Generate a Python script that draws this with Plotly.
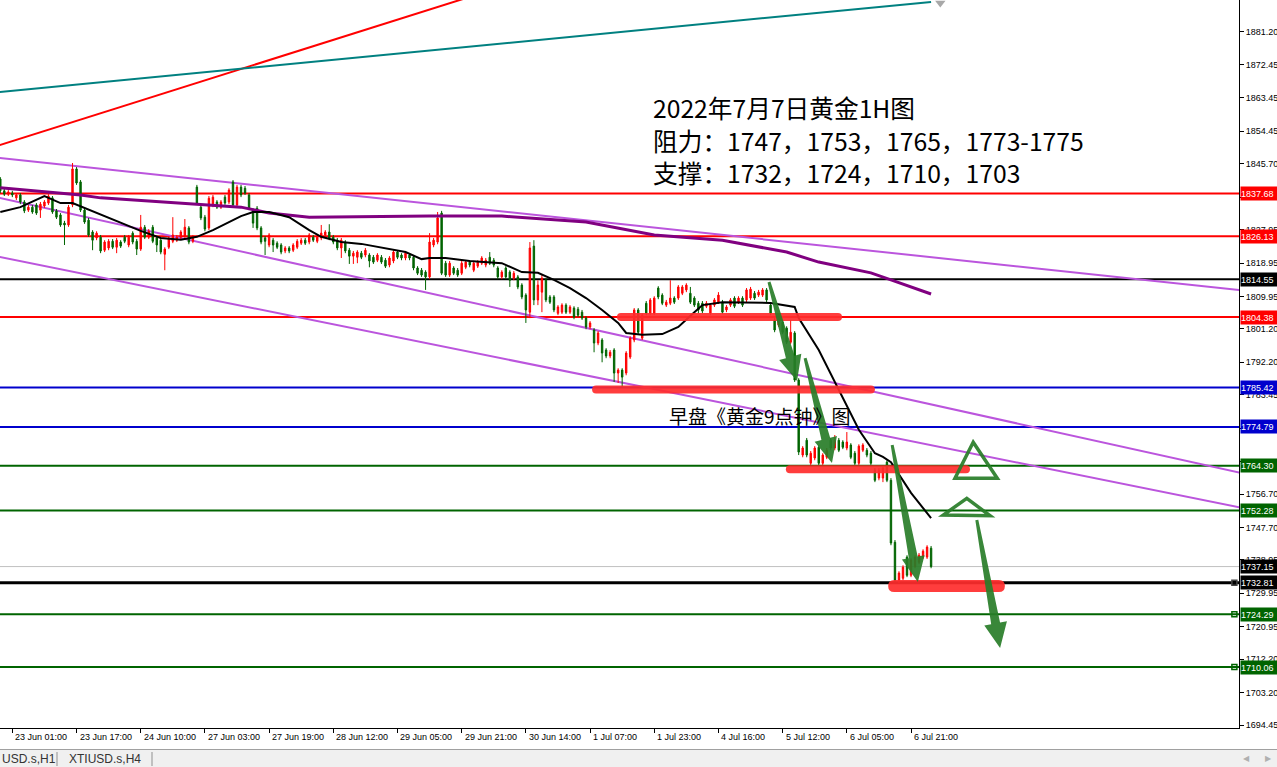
import math
import plotly.graph_objects as go

# ---------------- data ----------------
opens = [
1841.6,1838.4,1837.5,1837.8,1836.5,1837.3,1835.4,1833.2,1834.0,1834.6,
1833.2,1834.3,1835.1,1836.5,1833.0,1831.9,1829.7,1829.2,1834.6,1844.3,
1840.8,1833.2,1830.5,1827.3,1825.7,1825.9,1822.4,1823.0,1824.8,1823.2,
1824.6,1825.9,1823.8,1827.0,1824.8,1822.7,1828.6,1825.9,1828.6,1825.7,
1825.1,1821.3,1823.2,1824.8,1825.1,1825.9,1826.2,1828.4,1824.8,1839.4,
1834.0,1831.3,1828.4,1834.6,1835.4,1834.0,1836.7,1835.4,1840.8,1834.6,
1839.4,1839.1,1837.3,1833.2,1833.7,1828.4,1825.7,1823.8,1825.1,1824.3,
1823.8,1822.2,1823.0,1822.4,1823.2,1824.3,1825.1,1824.6,1825.9,1824.8,
1825.7,1826.5,1827.3,1825.9,1825.1,1823.0,1824.6,1822.4,1820.8,1820.5,
1821.6,1821.1,1821.1,1820.5,1819.7,1820.5,1819.7,1818.4,1819.5,1821.9,
1821.1,1820.3,1821.1,1820.5,1817.6,1817.0,1816.5,1815.2,1823.8,1824.6,
1832.4,1818.9,1815.7,1817.6,1817.0,1816.2,1817.8,1819.2,1817.0,1818.1,
1818.9,1818.4,1820.5,1819.7,1817.6,1815.2,1817.6,1816.5,1814.9,1815.2,
1813.0,1810.3,1805.7,1823.5,1809.0,1811.1,1814.3,1809.8,1809.8,1805.4,
1805.7,1807.6,1805.7,1806.8,1806.5,1805.7,1804.1,1801.7,1800.9,1797.4,
1798.2,1795.5,1793.9,1795.5,1789.3,1790.1,1789.3,1793.6,1798.2,1806.3,
1798.7,1808.1,1805.4,1805.4,1812.2,1810.3,1807.6,1808.1,1809.5,1809.5,
1810.8,1811.7,1810.8,1809.5,1808.1,1808.1,1807.3,1805.4,1807.6,1808.4,
1808.4,1806.3,1807.6,1809.5,1808.4,1809.5,1809.0,1809.5,1810.8,1810.3,
1810.3,1811.7,1807.6,1803.6,1802.2,1803.0,1801.4,1797.6,1800.1,1787.4,
1767.2,1771.2,1765.0,1766.4,1769.3,1765.0,1766.6,1771.2,1769.1,1771.2,
1770.7,1769.1,1769.9,1767.7,1765.0,1768.5,1768.5,1767.7,1763.1,1761.0,
1761.0,1765.3,1760.4,1743.7,1733.5,1734.0,1739.7,1734.8,1737.2,1738.3,1739.7,1739.7,1742.1]
highs = [
1842.1,1838.9,1838.6,1838.4,1837.8,1837.8,1835.9,1834.6,1834.6,1835.1,
1835.4,1835.9,1837.5,1837.0,1833.5,1832.4,1830.3,1834.6,1845.9,1844.8,
1841.3,1833.7,1831.1,1827.8,1827.5,1826.5,1825.1,1825.4,1825.4,1825.7,
1825.1,1826.5,1826.5,1827.5,1825.4,1831.9,1829.2,1828.1,1829.2,1826.2,
1825.7,1823.2,1826.2,1831.3,1826.5,1827.8,1830.8,1828.9,1826.5,1840.0,
1834.6,1831.9,1837.0,1837.3,1835.9,1835.9,1837.3,1839.1,1841.3,1840.0,
1840.0,1839.7,1837.8,1833.7,1834.3,1828.9,1826.2,1827.0,1825.7,1824.8,
1824.3,1823.5,1823.5,1824.3,1825.4,1825.7,1825.7,1827.0,1826.5,1826.5,
1829.2,1827.8,1829.4,1826.5,1825.7,1825.7,1825.1,1823.0,1822.2,1822.4,
1822.2,1823.0,1821.6,1821.1,1821.6,1821.1,1820.3,1820.8,1822.4,1822.4,
1821.6,1822.2,1821.6,1821.1,1818.1,1817.6,1817.0,1827.0,1825.7,1832.7,
1833.0,1819.5,1819.5,1818.1,1817.6,1819.5,1819.7,1819.7,1819.5,1819.7,
1820.8,1820.3,1821.9,1820.3,1818.1,1817.0,1818.1,1817.0,1816.8,1815.7,
1813.5,1810.8,1824.6,1825.1,1814.3,1815.7,1814.9,1810.3,1810.3,1807.6,
1808.1,1808.1,1807.6,1807.3,1807.1,1806.3,1804.6,1803.3,1801.4,1800.6,
1798.7,1796.0,1795.5,1796.0,1790.6,1790.6,1795.2,1799.2,1806.8,1806.8,
1805.4,1808.7,1809.5,1810.0,1812.7,1810.8,1809.0,1814.3,1810.0,1813.0,
1813.0,1813.5,1812.5,1810.0,1808.7,1808.7,1808.7,1808.1,1809.5,1811.1,
1809.0,1807.6,1809.5,1810.0,1810.0,1810.0,1812.2,1812.5,1811.4,1811.7,
1812.2,1812.2,1808.1,1804.1,1804.1,1803.6,1801.9,1803.6,1800.6,1787.9,
1769.6,1771.8,1768.3,1769.6,1769.9,1767.7,1769.1,1771.8,1772.6,1771.8,
1771.2,1773.4,1770.4,1768.3,1770.1,1770.4,1769.1,1768.3,1763.7,1763.7,
1764.2,1765.8,1761.0,1744.3,1735.9,1737.5,1740.2,1739.4,1740.2,1740.8,1741.8,1742.9,1742.7]
lows = [
1837.8,1837.0,1837.0,1836.7,1835.9,1834.8,1832.4,1832.7,1832.2,1831.9,
1831.1,1833.8,1834.6,1832.2,1830.8,1828.7,1823.8,1828.7,1834.0,1840.0,
1832.7,1829.5,1826.0,1822.4,1825.1,1821.6,1821.9,1822.4,1822.7,1821.6,
1823.0,1824.3,1823.2,1824.0,1821.1,1822.2,1825.4,1825.4,1824.3,1821.9,
1821.3,1817.0,1822.7,1824.3,1824.6,1825.4,1825.7,1824.0,1824.3,1834.6,
1830.5,1827.5,1827.8,1834.0,1833.5,1833.5,1834.6,1834.8,1834.0,1834.0,
1836.7,1837.3,1833.2,1828.4,1827.8,1824.0,1821.1,1823.2,1821.9,1822.7,
1821.3,1821.6,1821.6,1821.9,1822.7,1823.8,1823.8,1824.0,1824.6,1824.3,
1825.1,1825.9,1825.1,1824.0,1822.4,1820.3,1821.6,1818.7,1818.7,1818.9,
1820.0,1820.5,1817.8,1818.7,1819.2,1818.7,1817.6,1817.8,1818.9,1820.0,
1819.7,1819.7,1819.7,1817.0,1815.7,1815.2,1811.7,1814.6,1823.2,1824.0,
1815.7,1815.2,1815.2,1815.7,1815.2,1815.7,1817.3,1817.8,1816.5,1817.6,
1818.4,1817.8,1818.4,1817.8,1814.6,1814.6,1814.6,1812.5,1814.3,1811.9,
1809.2,1802.8,1804.1,1807.6,1807.6,1805.7,1808.4,1807.9,1805.7,1804.9,
1805.2,1805.2,1805.2,1803.8,1804.4,1803.6,1801.1,1801.1,1794.9,1796.8,
1792.2,1793.3,1793.3,1786.9,1786.6,1785.5,1788.7,1793.1,1797.6,1799.8,
1798.2,1804.9,1804.9,1804.9,1809.2,1807.6,1807.1,1807.6,1807.9,1809.0,
1810.3,1811.1,1807.9,1807.1,1805.4,1805.4,1806.8,1804.9,1807.1,1807.9,
1805.2,1805.7,1807.1,1806.8,1807.9,1807.1,1808.4,1809.0,1809.0,1809.8,
1809.8,1808.4,1804.9,1800.3,1801.7,1799.8,1797.1,1797.1,1786.9,1767.2,
1766.6,1766.6,1764.5,1765.8,1764.5,1764.5,1766.1,1768.5,1768.5,1768.0,
1768.8,1768.5,1766.1,1764.5,1764.5,1768.0,1766.6,1764.5,1759.9,1760.4,
1759.9,1759.9,1742.9,1732.9,1732.7,1733.5,1734.3,1734.3,1736.7,1737.8,1739.2,1739.2,1736.7]
closes = [
1838.4,1837.5,1838.1,1837.3,1837.3,1835.4,1833.0,1834.0,1832.7,1832.4,
1834.8,1835.4,1837.0,1832.7,1831.3,1829.2,1829.2,1834.0,1844.3,1840.5,
1833.2,1830.0,1826.5,1825.1,1827.0,1822.2,1824.6,1824.8,1823.2,1825.1,
1823.5,1824.8,1825.9,1824.6,1822.7,1828.6,1825.9,1827.5,1824.8,1823.8,
1821.9,1822.7,1825.7,1826.5,1825.9,1827.3,1828.6,1824.6,1825.9,1835.1,
1831.1,1828.1,1836.4,1836.7,1834.0,1835.4,1835.1,1838.6,1834.6,1839.4,
1837.3,1837.8,1833.7,1829.7,1828.4,1824.6,1824.8,1826.5,1823.8,1823.2,
1821.9,1823.0,1822.2,1823.8,1824.8,1825.1,1824.3,1826.5,1825.1,1825.9,
1827.0,1827.3,1825.7,1824.6,1823.0,1825.1,1822.2,1820.8,1821.6,1821.9,
1820.5,1822.4,1819.5,1819.2,1821.1,1819.2,1818.1,1820.3,1821.9,1820.5,
1820.3,1821.6,1820.3,1817.6,1816.2,1815.7,1815.2,1824.6,1825.1,1831.1,
1816.2,1815.7,1818.9,1816.2,1815.7,1818.9,1819.2,1818.4,1818.9,1819.2,
1820.3,1819.7,1818.9,1818.4,1815.2,1816.5,1815.2,1814.3,1816.2,1812.5,
1809.8,1806.3,1823.0,1809.0,1813.0,1814.9,1809.0,1808.4,1806.3,1807.1,
1807.6,1805.7,1807.1,1804.4,1804.9,1804.1,1801.7,1802.8,1797.4,1800.1,
1794.7,1793.9,1794.9,1789.3,1790.1,1788.2,1794.7,1798.7,1806.3,1800.3,
1804.9,1805.4,1809.0,1809.5,1809.8,1808.1,1808.4,1809.5,1808.4,1812.5,
1812.5,1813.0,1808.4,1807.6,1806.3,1806.0,1808.1,1807.6,1809.0,1810.3,
1805.7,1807.1,1809.0,1807.3,1809.5,1807.6,1811.7,1811.9,1809.5,1811.1,
1811.7,1809.0,1805.4,1800.9,1803.6,1800.3,1797.6,1800.3,1787.4,1768.0,
1769.1,1767.2,1767.7,1769.1,1765.0,1767.2,1768.5,1769.1,1771.2,1768.5,
1769.3,1770.7,1766.6,1765.0,1769.6,1769.9,1767.2,1765.0,1760.4,1763.1,
1763.7,1760.4,1743.5,1733.5,1735.4,1737.0,1734.8,1738.9,1739.7,1740.2,1741.3,1742.4,1737.15]
bars = list(range(len(closes)))

fast_ma_bars = [0,5,11,15,18,21,25,30,35,40,45,49,53,58,60,63,67,72,77,80,85,90,96,101,105,107,111,117,
                125,130,134,138,142,146,150,154,156,160,165,169,173,175,180,189,192,198,199,204,209,214,218,220,222,227,232]
fast_ma_vals = [1832.7,1834.0,1837.0,1835.1,1835.1,1833.8,1831.9,1829.7,1827.6,1825.7,1825.2,1826.0,1827.8,1830.5,
                1831.6,1832.7,1832.7,1831.3,1827.8,1826.0,1824.6,1824.1,1823.0,1821.9,1820.0,1820.3,1820.3,1819.5,
                1818.9,1816.5,1816.3,1814.4,1812.2,1809.5,1806.3,1802.8,1800.1,1799.6,1799.8,1801.7,1805.7,1807.6,
                1808.4,1808.4,1808.2,1807.1,1804.1,1795.5,1784.7,1774.0,1767.7,1766.7,1765.3,1757.0,1750.2]
slow_ma_bars = [0,6,15,20,25,33,42,50,60,67,77,107,125,146,163,180,196,204,217,222,232]
slow_ma_vals = [1839.2,1838.6,1837.8,1837.3,1836.5,1835.9,1835.4,1834.8,1834.0,1832.4,1831.3,1831.6,1831.6,
                1830.0,1826.5,1825.1,1821.9,1819.2,1816.3,1814.4,1810.6]

level_prices = [1837.68, 1826.13, 1814.55, 1804.38, 1785.42, 1774.79, 1764.30, 1752.28, 1732.81, 1724.29, 1710.06]
level_colors = ['#ff0000', '#ff0000', '#000000', '#ff0000', '#0000cd', '#0000cd',
                '#006400', '#006400', '#000000', '#006400', '#006400']
bid_price = 1737.15

trend_bar0 = [-2, -2, -2, -2, -2]
trend_p0 = [1847.46, 1836.9, 1821.0, 1850.1, 1864.8]
trend_bar1 = [312, 312, 312, 118, 232]
trend_p1 = [1811.32, 1761.7, 1752.4, 1891.0, 1889.3]
trend_colors = ['#bb55dd', '#bb55dd', '#bb55dd', '#ff0000', '#008080']

x_tick_bars = [3, 19, 35, 51, 67, 83, 99, 115, 131, 147, 163, 179, 195, 211, 227]
x_tick_labels = ['23 Jun 01:00', '23 Jun 17:00', '24 Jun 10:00', '27 Jun 03:00', '27 Jun 19:00',
                 '28 Jun 12:00', '29 Jun 05:00', '29 Jun 21:00', '30 Jun 14:00', '1 Jul 07:00',
                 '1 Jul 23:00', '4 Jul 16:00', '5 Jul 12:00', '6 Jul 05:00', '6 Jul 21:00']
y_tick_vals = [1881.20, 1872.45, 1863.45, 1854.45, 1845.70, 1836.70, 1827.95, 1818.95, 1809.95, 1801.20,
               1792.20, 1783.45, 1774.45, 1765.45, 1756.70, 1747.70, 1738.95, 1729.95, 1720.95, 1712.20,
               1703.20, 1694.45]

# drawn objects (bar index, price)
hl_bar0 = [154.7, 148.5, 196.8, 222.8]
hl_bar1 = [208.8, 217.0, 240.7, 248.9]
hl_price = [1804.4, 1784.86, 1763.4, 1731.9]
hl_thick = [8, 8, 8, 12]

arrow_tail_bar = [191.6, 200.6, 222.3, 243.4]
arrow_tail_p = [1813.83, 1793.35, 1769.90, 1749.70]
arrow_tip_bar = [198.6, 207.3, 228.7, 249.2]
arrow_tip_p = [1787.15, 1765.06, 1732.99, 1715.2]

tri_bars = [[242.5, 237.96, 248.5], [240.9, 235.05, 246.7]]
tri_prices = [[1770.63, 1760.93, 1760.93], [1755.54, 1751.04, 1750.85]]

title_lines = ['2022年7月7日黄金1H图', '阻力：1747，1753，1765，1773-1775', '支撑：1732，1724，1710，1703']
note_text = '早盘《黄金9点钟》图'

# ---------------- layout geometry ----------------
W, H = 1277, 767
PLOT_W, PLOT_H = 1239, 728
X_RANGE = [-0.075, 308.75]
Y_RANGE = [1693.65, 1889.82]
PX_X = PLOT_W / (X_RANGE[1] - X_RANGE[0])
PX_Y = PLOT_H / (Y_RANGE[1] - Y_RANGE[0])

def px(x):
    return x / PLOT_W

def py(y):
    return (PLOT_H - y) / PLOT_H

fig = go.Figure()

fig.add_trace(go.Candlestick(
    x=bars, open=opens, high=highs, low=lows, close=closes,
    increasing=dict(line=dict(color='#ff0000', width=1), fillcolor='#ff0000'),
    decreasing=dict(line=dict(color='#006400', width=1), fillcolor='#006400'),
    whiskerwidth=0, hoverinfo='skip', showlegend=False))

fig.add_trace(go.Scatter(x=slow_ma_bars, y=slow_ma_vals, mode='lines',
                         line=dict(color='#800080', width=3), hoverinfo='skip'))
fig.add_trace(go.Scatter(x=fast_ma_bars, y=fast_ma_vals, mode='lines',
                         line=dict(color='#000000', width=2), hoverinfo='skip'))

shapes = []
for p, c in zip(level_prices, level_colors):
    shapes.append(dict(type='line', xref='paper', yref='y', x0=0, x1=1, y0=p, y1=p,
                       line=dict(color=c, width=3 if p == 1732.81 else 2), layer='below'))
shapes.append(dict(type='line', xref='paper', yref='y', x0=0, x1=1, y0=bid_price, y1=bid_price,
                   line=dict(color='#c0c0c0', width=1), layer='below'))
for b0, p0, b1, p1, c in zip(trend_bar0, trend_p0, trend_bar1, trend_p1, trend_colors):
    shapes.append(dict(type='line', xref='x', yref='y', x0=b0, y0=p0, x1=b1, y1=p1,
                       line=dict(color=c, width=2), layer='below'))

for b0, b1, p, t in zip(hl_bar0, hl_bar1, hl_price, hl_thick):
    rx = (t / 2) / PX_X
    ry = (t / 2) / PX_Y
    top, bot = p + ry, p - ry
    path = (f"M{b0},{top} L{b1},{top} Q{b1+rx},{top} {b1+rx},{p} Q{b1+rx},{bot} {b1},{bot} "
            f"L{b0},{bot} Q{b0-rx},{bot} {b0-rx},{p} Q{b0-rx},{top} {b0},{top} Z")
    shapes.append(dict(type='path', xref='x', yref='y', path=path,
                       fillcolor='rgba(255,45,45,0.92)', line=dict(width=0), layer='above'))

def arrow_path(tb, tp, hb, hp, head_len=25, head_half=11.5, tail_half=1.5, neck_half=4.5):
    X0, Y0 = tb * PX_X, tp * PX_Y
    X1, Y1 = hb * PX_X, hp * PX_Y
    L = math.hypot(X1 - X0, Y1 - Y0)
    dx, dy = (X1 - X0) / L, (Y1 - Y0) / L
    nx, ny = -dy, dx
    bx, by = X1 - dx * head_len, Y1 - dy * head_len
    pts = [(X0 + nx * tail_half, Y0 + ny * tail_half),
           (bx + nx * neck_half, by + ny * neck_half),
           (bx + nx * head_half, by + ny * head_half),
           (X1, Y1),
           (bx - nx * head_half, by - ny * head_half),
           (bx - nx * neck_half, by - ny * neck_half),
           (X0 - nx * tail_half, Y0 - ny * tail_half)]
    s = ' L'.join(f"{x / PX_X:.3f},{y / PX_Y:.3f}" for x, y in pts)
    return 'M' + s + ' Z'

for tb, tp, hb, hp in zip(arrow_tail_bar, arrow_tail_p, arrow_tip_bar, arrow_tip_p):
    shapes.append(dict(type='path', xref='x', yref='y', path=arrow_path(tb, tp, hb, hp),
                       fillcolor='rgba(40,125,40,0.92)', line=dict(width=0), layer='above'))

for tbs, tps in zip(tri_bars, tri_prices):
    path = f"M{tbs[0]},{tps[0]} L{tbs[1]},{tps[1]} L{tbs[2]},{tps[2]} Z"
    shapes.append(dict(type='path', xref='x', yref='y', path=path,
                       line=dict(color='rgba(40,125,40,0.92)', width=3.5), layer='above'))

# bottom tab bar
shapes.append(dict(type='rect', xref='paper', yref='paper', x0=0, x1=W / PLOT_W,
                   y0=py(750), y1=py(767), fillcolor='#f0f0f0', line=dict(width=0), layer='above'))
shapes.append(dict(type='line', xref='paper', yref='paper', x0=0, x1=W / PLOT_W,
                   y0=py(749.5), y1=py(749.5), line=dict(color='#a0a0a0', width=1), layer='above'))
for sx in (57, 152):
    shapes.append(dict(type='line', xref='paper', yref='paper', x0=px(sx), x1=px(sx),
                       y0=py(752), y1=py(766), line=dict(color='#909090', width=1), layer='above'))

annotations = []
tag_prices = level_prices[:8] + [bid_price] + level_prices[8:]
tag_colors = level_colors[:8] + ['#000000'] + level_colors[8:]
for p, c in zip(tag_prices, tag_colors):
    annotations.append(dict(xref='paper', yref='y', x=1, y=p, xanchor='left', yanchor='middle',
                            xshift=1, text=f"{p:.2f}", showarrow=False, bgcolor=c,
                            font=dict(family='Liberation Sans', size=9, color='white'),
                            width=36, height=13, borderpad=0, align='left'))
for b, t in zip(x_tick_bars, x_tick_labels):
    annotations.append(dict(xref='x', yref='paper', x=b, y=0, xanchor='left', yanchor='top',
                            xshift=1, yshift=-2, text=t, showarrow=False,
                            font=dict(family='Liberation Sans', size=9, color='black')))
for i, t in enumerate(title_lines):
    annotations.append(dict(xref='paper', yref='paper', x=px(651), y=py(107 + 32.5 * i),
                            xanchor='left', yanchor='middle', text=t, showarrow=False,
                            font=dict(family='Noto Sans CJK SC', size=24.7, color='black')))
annotations.append(dict(xref='paper', yref='paper', x=px(667), y=py(415), xanchor='left',
                        yanchor='middle', text=note_text, showarrow=False,
                        font=dict(family='Noto Sans CJK SC', size=19, color='black')))
annotations.append(dict(xref='paper', yref='paper', x=px(0), y=py(759), xanchor='left',
                        yanchor='middle', text='USD.s,H1', showarrow=False,
                        font=dict(family='Liberation Sans', size=12, color='#333333')))
annotations.append(dict(xref='paper', yref='paper', x=px(67), y=py(759), xanchor='left',
                        yanchor='middle', text='XTIUSD.s,H4', showarrow=False,
                        font=dict(family='Liberation Sans', size=12, color='#333333')))
annotations.append(dict(xref='paper', yref='paper', x=px(1246), y=py(758), xanchor='center',
                        yanchor='middle', text='◀', showarrow=False,
                        font=dict(family='DejaVu Sans', size=8, color='#b0b0b0')))
annotations.append(dict(xref='paper', yref='paper', x=px(1268), y=py(758), xanchor='center',
                        yanchor='middle', text='▶', showarrow=False,
                        font=dict(family='DejaVu Sans', size=8, color='#b0b0b0')))

fig.add_trace(go.Scatter(x=[307.6, 307.6, 307.6], y=[1732.81, 1724.29, 1710.06], mode='markers',
                         marker=dict(symbol=['square', 'square-open', 'square-open'], size=5,
                                     color=['#000000', '#006400', '#006400'], line=dict(width=1.5)),
                         cliponaxis=False, hoverinfo='skip'))
fig.add_trace(go.Scatter(x=[234.3], y=[1889.0], mode='markers',
                         marker=dict(symbol='triangle-down', size=9, color='#a8a8a8'),
                         cliponaxis=False, hoverinfo='skip'))

fig.update_layout(
    width=W, height=H, margin=dict(l=0, r=W - PLOT_W, t=0, b=H - PLOT_H, pad=0),
    paper_bgcolor='white', plot_bgcolor='white', showlegend=False, boxgap=0.5,
    shapes=shapes, annotations=annotations,
    xaxis=dict(range=X_RANGE, showgrid=False, zeroline=False, showline=True, linecolor='black',
               linewidth=1, tickmode='array', tickvals=x_tick_bars, ticks='outside', ticklen=4,
               tickcolor='black', showticklabels=False, rangeslider=dict(visible=False),
               fixedrange=True, automargin=False),
    yaxis=dict(range=Y_RANGE, side='right', showgrid=False, zeroline=False, showline=True,
               linecolor='black', linewidth=1, tickmode='array', tickvals=y_tick_vals,
               ticktext=[f"{v:.2f}" for v in y_tick_vals], ticks='outside', ticklen=4,
               tickcolor='black', tickfont=dict(family='Liberation Sans', size=9, color='black'),
               fixedrange=True, automargin=False),
)

fig.write_html("out.html", config={'displayModeBar': False},
               post_script="document.body.style.margin='0';document.body.style.padding='0';")
